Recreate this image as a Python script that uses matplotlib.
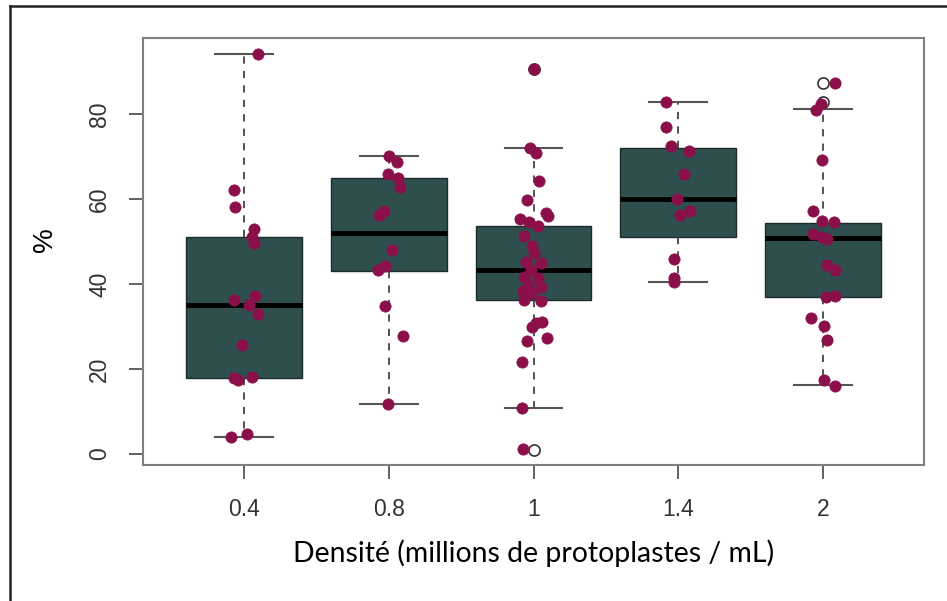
import matplotlib
matplotlib.use("Agg")
import matplotlib.pyplot as plt
from matplotlib.lines import Line2D
import numpy as np

# categories (density, millions of protoplasts / mL)
groups = ['0.4', '0.8', '1', '1.4', '2']

# box statistics
whislo = [4.1, 11.8, 10.8, 40.4, 16.2]
q1 = [17.8, 43.2, 36.2, 51.1, 37.0]
med = [35.0, 52.0, 43.3, 60.1, 50.8]
q3 = [51.1, 64.9, 53.6, 72.0, 54.5]
whishi = [94.3, 70.2, 72.2, 82.9, 81.3]
outliers = [[], [], [90.7, 1.0], [], [87.3, 82.9]]

# individual measurements (%) and their horizontal jitter
vals_04 = [94.3, 62.3, 58.1, 53.1, 51.1, 49.7, 37.3, 36.2, 35.2, 33.0, 25.7, 18.1, 17.8, 17.4, 4.7, 4.1]
jit_04 = [0.093, -0.069, -0.062, 0.065, 0.053, 0.069, 0.076, -0.069, 0.030, 0.097, -0.016, 0.053, -0.069, -0.046, 0.019, -0.092]

vals_08 = [70.2, 68.9, 66.0, 64.9, 63.0, 57.3, 56.4, 48.1, 44.4, 43.3, 34.9, 27.8, 11.8]
jit_08 = [0.004, 0.057, -0.003, 0.066, 0.078, -0.035, -0.065, 0.021, -0.030, -0.072, -0.024, 0.097, -0.007]

vals_1 = [90.7, 72.1, 71.0, 64.2, 59.9, 56.8, 56.0, 55.3, 54.6, 53.6, 51.4, 48.9, 47.3, 45.3, 44.9, 43.4,
          41.8, 41.4, 39.8, 39.4, 38.3, 37.9, 36.3, 36.0, 30.8, 31.2, 30.0, 26.7, 27.3, 21.7, 10.8, 1.1]
jit_1 = [0.004, -0.024, 0.016, 0.035, -0.048, 0.085, 0.097, -0.095, -0.030, 0.028, -0.069, -0.007, 0.002, -0.053, 0.050, -0.019,
         -0.065, 0.028, -0.041, 0.050, -0.076, -0.007, -0.065, 0.050, 0.016, 0.062, -0.007, -0.046, 0.092, -0.081, -0.081, -0.076]

vals_14 = [82.9, 77.0, 72.6, 71.4, 66.0, 60.1, 57.2, 56.4, 45.9, 41.4, 40.4]
jit_14 = [-0.085, -0.085, -0.050, 0.074, 0.039, -0.007, 0.081, 0.012, -0.028, -0.028, -0.028]

vals_2 = [87.3, 82.5, 81.1, 69.3, 57.2, 54.8, 54.6, 51.9, 51.2, 50.6, 44.5, 43.3, 37.3, 37.0, 32.0, 30.2, 26.9, 17.4, 16.0]
jit_2 = [0.085, -0.012, -0.048, -0.007, -0.069, -0.007, 0.080, -0.065, -0.005, 0.028, 0.032, 0.085, 0.085, 0.021, -0.083, 0.009, 0.032, 0.011, 0.085]

points = [vals_04, vals_08, vals_1, vals_14, vals_2]
jitter = [jit_04, jit_08, jit_1, jit_14, jit_2]

W, H = 947, 601
fig = plt.figure(figsize=(W / 100, H / 100), dpi=100)
ax = fig.add_axes([143 / W, 1 - 465 / H, (924 - 143) / W, (465 - 38) / H])

stats = []
for i in range(len(groups)):
    stats.append(dict(whislo=whislo[i], q1=q1[i], med=med[i], q3=q3[i],
                      whishi=whishi[i], fliers=outliers[i]))

pos = np.arange(1, len(groups) + 1)
ax.bxp(stats, positions=pos, widths=0.8, patch_artist=True,
       boxprops=dict(facecolor='#2f4f4f', edgecolor='#1c2b2b', linewidth=1.0),
       medianprops=dict(color='black', linewidth=3.5, solid_capstyle='butt'),
       whiskerprops=dict(color='#444444', linewidth=1.3, linestyle=(0, (4, 4))),
       capprops=dict(color='#555555', linewidth=1.5),
       capwidths=0.4,
       flierprops=dict(marker='o', markerfacecolor='white', markeredgecolor='#333333',
                       markersize=8, markeredgewidth=1.2),
       zorder=2)

for i in range(len(groups)):
    xs = pos[i] + np.array(jitter[i])
    ax.scatter(xs, points[i], s=66, color='#8b1049', edgecolors='#8b1049', linewidths=0.5, zorder=3)

ax.set_xlim(0.3, 5.7)
ax.set_ylim(-2.6, 98.0)

ax.set_xticks(pos)
ax.set_xticklabels(groups, fontfamily='Liberation Sans', fontsize=16.5, color='#333333')
ax.set_yticks([0, 20, 40, 60, 80])
ax.set_yticklabels(['0', '20', '40', '60', '80'], fontfamily='Liberation Sans', fontsize=16.5,
                   color='#333333', rotation=90, va='center')
ax.tick_params(axis='both', length=10, width=1.3, color='#555555')
ax.tick_params(axis='x', pad=14)
ax.tick_params(axis='y', pad=13)

for sp in ax.spines.values():
    sp.set_color('#808080')
    sp.set_linewidth(1.5)

fig.text(45 / W, 1 - 240 / H, '%', rotation=90, ha='center', va='center',
         fontfamily='Liberation Sans', fontsize=20, color='black')
fig.text(534 / W, 1 - 553 / H, 'Densité (millions de protoplastes / mL)', ha='center', va='center',
         fontfamily='Lato', fontsize=20.4, color='black')

# outer border of the original screenshot
fig.add_artist(Line2D([10 / W, 1], [1 - 6 / H, 1 - 6 / H], color='#222222', linewidth=1.8))
fig.add_artist(Line2D([10 / W, 10 / W], [0, 1 - 6 / H], color='#222222', linewidth=1.8))

fig.savefig('out.png', dpi=100)
